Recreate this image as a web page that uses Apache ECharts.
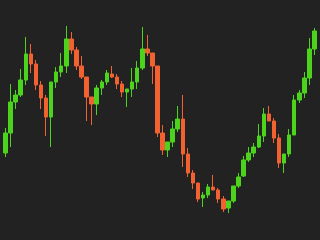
<!DOCTYPE html>
<html>
<head>
<meta charset="utf-8">
<script src="https://cdn.jsdelivr.net/npm/echarts@6/dist/echarts.min.js"></script>
<style>
html,body{margin:0;padding:0;background:#222222;}
#c{width:320px;height:240px;}
</style>
</head>
<body>
<div id="c"></div>
<script>
var categories = [];
for (var i = 1; i <= 62; i++) categories.push('D' + i);

var openValues  = [87,107,138,145,160,186,176,155,142,123,158,168,174,201,190,174,163,143,136,152,158,166,163,156,148,151,158,172,191,187,174,107,90,98,111,121,86,67,57,42,45,53,50,41,32,39,54,64,80,87,93,104,126,119,102,77,86,105,140,147,162,191];
var closeValues = [107,138,145,160,186,176,155,142,123,158,168,174,201,190,174,163,143,136,152,158,167,163,156,148,151,158,172,191,187,174,107,90,98,111,121,86,67,57,41,45,53,50,41,31,39,54,63,80,87,93,104,126,119,102,77,86,105,140,147,162,191,209];
var lowValues   = [83,93,131,143,155,167,150,131,104,93,152,163,167,186,170,161,119,115,125,145,155,162,151,143,133,143,151,170,184,156,103,85,83,93,108,73,63,51,38,33,42,50,37,28,27,37,52,63,78,83,92,98,119,97,72,67,83,105,137,142,155,185];
var highValues  = [112,156,150,171,203,196,180,159,145,158,173,187,214,208,193,184,163,143,155,160,170,174,166,159,151,172,179,213,205,187,174,115,98,119,134,145,92,70,57,48,56,65,52,44,39,54,67,84,93,97,116,132,134,122,106,86,111,145,150,168,202,212];

var data = categories.map(function (c, i) {
  return [openValues[i], closeValues[i], lowValues[i], highValues[i]];
});

var chart = echarts.init(document.getElementById('c'), null, {renderer: 'canvas'});
chart.setOption({
  backgroundColor: '#222222',
  animation: false,
  grid: {left: 3, right: 3, top: 0, bottom: 0},
  xAxis: {type: 'category', data: categories, show: false, boundaryGap: true},
  yAxis: {type: 'value', min: 0, max: 240, show: false, splitLine: {show: false}},
  series: [{
    type: 'candlestick',
    data: data,
    barWidth: 4,
    itemStyle: {
      color: '#4cd41c',
      color0: '#f26130',
      borderColor: '#4cd41c',
      borderColor0: '#f26130',
      borderWidth: 1
    }
  }]
});
</script>
</body>
</html>
